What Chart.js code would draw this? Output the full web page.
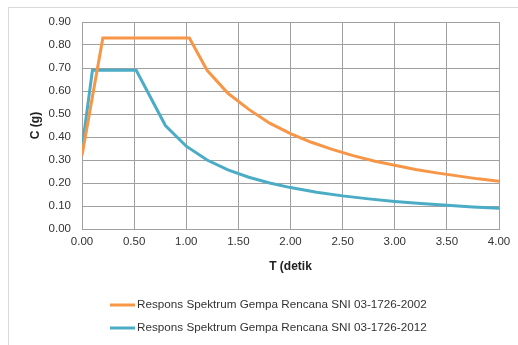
<!DOCTYPE html>
<html>
<head>
<meta charset="utf-8">
<script src="https://cdn.jsdelivr.net/npm/chart.js@4"></script>
<style>
    html, body { margin: 0; padding: 0; background: #fff; }
    #wrap { position: relative; width: 518px; height: 345px; overflow: hidden; }
    #frame { position: absolute; left: 8px; top: 7px; width: 530px; height: 360px; border: 1px solid #d9d9d9; }
    canvas { position: absolute; left: 0; top: 0; }
</style>
</head>
<body>
<div id="wrap">
    <div id="frame"></div>
    <canvas id="spectrumChart" width="518" height="345"></canvas>
</div>
<script>
const labels2002 = 'Respons Spektrum Gempa Rencana SNI 03-1726-2002';
const labels2012 = 'Respons Spektrum Gempa Rencana SNI 03-1726-2012';

const t2002 = [0, 0.2, 1.03, 1.2, 1.4, 1.6, 1.8, 2.0, 2.2, 2.4, 2.6, 2.8, 3.0, 3.2, 3.4, 3.6, 3.8, 4.0];
const c2002 = [0.32, 0.83, 0.83, 0.69, 0.59, 0.52, 0.46, 0.415, 0.377, 0.346, 0.319, 0.296, 0.277, 0.259, 0.244, 0.231, 0.218, 0.208];

const t2012 = [0, 0.1, 0.52, 0.8, 1.0, 1.2, 1.4, 1.6, 1.8, 2.0, 2.25, 2.5, 2.75, 3.0, 3.25, 3.5, 3.75, 4.0];
const c2012 = [0.35, 0.69, 0.69, 0.45, 0.36, 0.30, 0.257, 0.225, 0.20, 0.18, 0.16, 0.144, 0.131, 0.12, 0.111, 0.103, 0.096, 0.09];

const xTicks = [0, 0.5, 1, 1.5, 2, 2.5, 3, 3.5, 4];
const yTicks = [0, 0.1, 0.2, 0.3, 0.4, 0.5, 0.6, 0.7, 0.8, 0.9];

const toPoints = (xs, ys) => xs.map((x, i) => ({ x, y: ys[i] }));

// legend drawn as two stacked rows below the axis, like the Excel original
const stackedLegend = {
    id: 'stackedLegend',
    afterDraw(chart) {
        const ctx = chart.ctx;
        const rows = [305, 328];
        ctx.save();
        ctx.font = '11.7px "Liberation Sans", sans-serif';
        ctx.textBaseline = 'middle';
        chart.data.datasets.forEach((ds, i) => {
            const y = rows[i];
            ctx.strokeStyle = ds.borderColor;
            ctx.lineWidth = 3;
            ctx.beginPath();
            ctx.moveTo(110, y);
            ctx.lineTo(135, y);
            ctx.stroke();
            ctx.fillStyle = '#333';
            ctx.fillText(ds.label, 137, y);
        });
        ctx.restore();
    },
};

const canvas = document.getElementById('spectrumChart');
const gridColor = '#a0a0a0';
const tickFont = { family: '"Liberation Sans", sans-serif', size: 11.5 };

new Chart(canvas, {
    type: 'line',
    data: {
        datasets: [
            {
                label: labels2002,
                data: toPoints(t2002, c2002),
                borderColor: '#f79646',
                borderWidth: 3,
                pointRadius: 0,
                tension: 0,
            },
            {
                label: labels2012,
                data: toPoints(t2012, c2012),
                borderColor: '#4bacc6',
                borderWidth: 3,
                pointRadius: 0,
                tension: 0,
            },
        ],
    },
    options: {
        responsive: false,
        animation: false,
        layout: { padding: { left: 20, top: 22, right: 19, bottom: 69 } },
        plugins: {
            legend: { display: false },
            tooltip: { enabled: false },
        },
        scales: {
            x: {
                type: 'linear',
                min: 0,
                max: 4,
                afterBuildTicks: (s) => { s.ticks = xTicks.map(v => ({ value: v })); },
                afterFit: (s) => { s.height = 47; },
                ticks: {
                    callback: (v) => Number(v).toFixed(2),
                    color: '#333',
                    font: tickFont,
                    padding: 6,
                    maxRotation: 0,
                },
                grid: { color: gridColor, drawTicks: false },
                border: { color: gridColor },
                title: {
                    display: true,
                    text: 'T (detik',
                    color: '#222',
                    font: { family: '"Liberation Sans", sans-serif', size: 12, weight: 'bold' },
                    padding: { top: 4, bottom: 2 },
                },
            },
            y: {
                min: 0,
                max: 0.9,
                afterBuildTicks: (s) => { s.ticks = yTicks.map(v => ({ value: v })); },
                afterFit: (s) => { s.width = 62; },
                ticks: {
                    callback: (v) => Number(v).toFixed(2),
                    color: '#333',
                    font: tickFont,
                    padding: 11,
                },
                grid: { color: gridColor, drawTicks: false },
                border: { color: gridColor },
                title: {
                    display: true,
                    text: 'C (g)',
                    color: '#222',
                    font: { family: '"Liberation Sans", sans-serif', size: 12, weight: 'bold' },
                    padding: { top: 8, bottom: 0 },
                },
            },
        },
    },
    plugins: [stackedLegend],
});
</script>
</body>
</html>
